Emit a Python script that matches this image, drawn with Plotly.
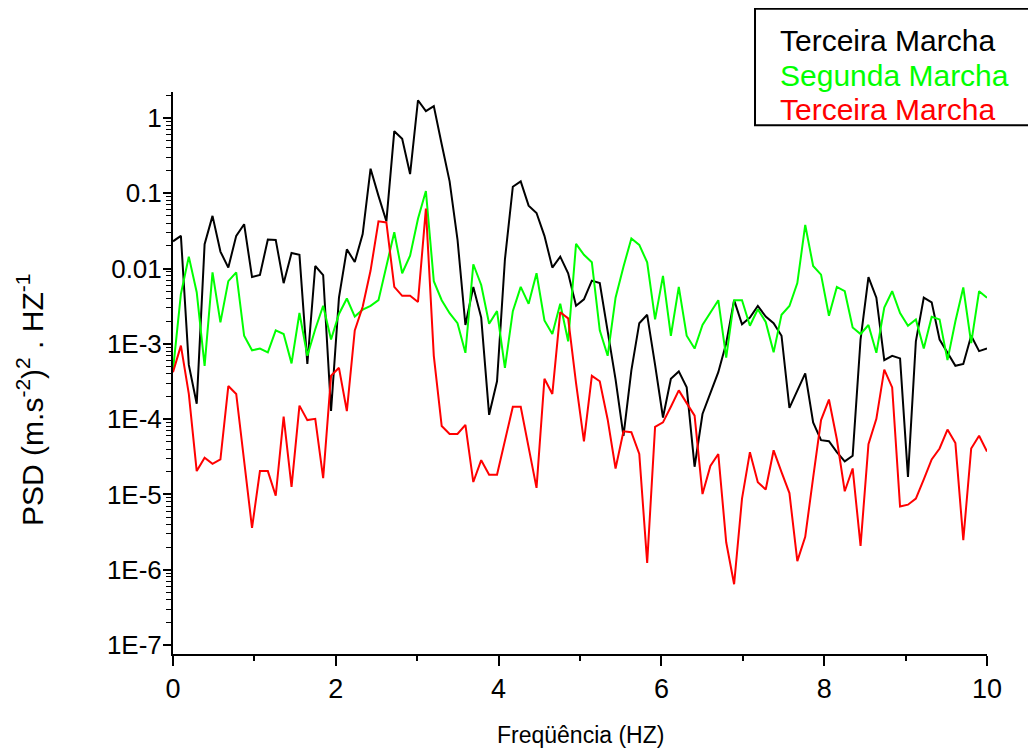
import plotly.graph_objects as go

# Frequency bins (Hz)
n_points = 104
freq = [round(i * 10 / (n_points - 1), 4) for i in range(n_points)]

terceira_black = [
    0.0230, 0.0272, 5.25e-4, 1.60e-4, 0.0210, 0.0501, 0.0168, 0.0103, 0.0272, 0.0388,
    7.7e-3, 8.2e-3, 0.0243, 0.0240, 6.4e-3, 0.0161, 0.0152, 5.4e-4, 0.0108, 8.2e-3,
    1.28e-4, 4.1e-3, 0.0180, 0.0122, 0.0287, 0.212, 0.0923, 0.0424, 0.668, 0.529,
    0.180, 1.72, 1.23, 1.44, 0.448, 0.144, 0.0243, 1.78e-3, 5.7e-3, 2.23e-3,
    1.14e-4, 3.18e-4, 0.0132, 0.122, 0.144, 0.0684, 0.0547, 0.0272, 0.0103, 0.0144,
    8.65e-3, 3.2e-3, 3.9e-3, 6.9e-3, 6.4e-3, 1.43e-3, 3.37e-4, 6.0e-5, 4.45e-4, 1.88e-3,
    2.43e-3, 5.25e-4, 1.05e-4, 3.44e-4, 4.3e-4, 2.64e-4, 2.33e-5, 1.17e-4, 2.28e-4, 4.2e-4,
    1.02e-3, 3.8e-3, 1.82e-3, 2.23e-3, 3.18e-3, 2.30e-3, 1.88e-3, 1.28e-3, 1.41e-4, 2.41e-4,
    4.06e-4, 9.06e-5, 5.25e-5, 5.08e-5, 3.64e-5, 2.75e-5, 3.26e-5, 1.14e-3, 7.7e-3, 4.1e-3,
    6.07e-4, 6.93e-4, 6.4e-4, 1.71e-5, 1.08e-3, 4.1e-3, 3.55e-3, 1.14e-3, 7.7e-4, 5.1e-4,
    5.4e-4, 1.28e-3, 8.0e-4, 8.65e-4,
]

segunda_green = [
    4.45e-4, 4.6e-3, 0.0144, 4.85e-3, 5.1e-4, 8.9e-3, 1.93e-3, 6.8e-3, 8.9e-3, 1.28e-3,
    8.2e-4, 8.65e-4, 7.7e-4, 1.51e-3, 1.35e-3, 5.5e-4, 2.57e-3, 6.93e-4, 1.56e-3, 3.2e-3,
    1.14e-3, 2.49e-3, 4.0e-3, 2.30e-3, 2.84e-3, 3.2e-3, 3.8e-3, 0.0112, 0.0303, 8.65e-3,
    0.0148, 0.0458, 0.107, 6.8e-3, 3.8e-3, 2.55e-3, 1.88e-3, 7.6e-4, 0.0114, 6.05e-3,
    1.85e-3, 2.72e-3, 4.8e-4, 2.72e-3, 5.7e-3, 3.4e-3, 8.65e-3, 2.04e-3, 1.35e-3, 3.4e-3,
    1.08e-3, 0.0213, 0.0152, 0.0121, 1.51e-3, 6.93e-4, 4.1e-3, 0.0106, 0.0251, 0.0206,
    0.0121, 2.11e-3, 8.0e-3, 1.28e-3, 5.7e-3, 1.28e-3, 8.65e-4, 1.78e-3, 2.57e-3, 3.8e-3,
    6.56e-4, 3.8e-3, 3.8e-3, 1.74e-3, 2.88e-3, 1.95e-3, 7.7e-4, 2.43e-3, 3.18e-3, 6.4e-3,
    0.0379, 0.0108, 8.3e-3, 2.36e-3, 5.7e-3, 5.0e-3, 1.65e-3, 1.35e-3, 1.78e-3, 7.6e-4,
    3.04e-3, 5.0e-3, 2.57e-3, 1.74e-3, 2.11e-3, 8.65e-4, 2.28e-3, 2.11e-3, 6.07e-4, 1.99e-3,
    5.6e-3, 1.02e-3, 5.0e-3, 4.1e-3,
]

terceira_red = [
    4.2e-4, 9.46e-4, 2.16e-4, 2.04e-5, 3.08e-5, 2.55e-5, 2.92e-5, 2.75e-4, 2.16e-4, 2.92e-5,
    3.6e-6, 2.04e-5, 2.04e-5, 9.6e-6, 1.08e-4, 1.26e-5, 1.51e-4, 9.7e-5, 1.01e-4, 1.64e-5,
    3.76e-4, 4.8e-4, 1.28e-4, 1.51e-3, 3.11e-3, 9.4e-3, 0.0424, 0.041, 5.7e-3, 4.34e-3,
    4.34e-3, 3.6e-3, 0.0625, 6.93e-4, 8.1e-5, 6.35e-5, 6.35e-5, 8.4e-5, 1.46e-5, 2.85e-5,
    1.83e-5, 1.83e-5, 5.08e-5, 1.46e-4, 1.46e-4, 4.3e-5, 1.22e-5, 3.44e-4, 2.16e-4, 2.63e-3,
    2.18e-3, 3.0e-4, 5.08e-5, 3.76e-4, 3.18e-4, 9.9e-5, 2.21e-5, 6.9e-5, 6.7e-5, 3.44e-5,
    1.23e-6, 7.9e-5, 9.06e-5, 1.46e-4, 2.41e-4, 1.63e-4, 1.11e-4, 1.01e-5, 2.39e-5, 3.44e-5,
    2.31e-6, 6.4e-7, 8.8e-6, 3.64e-5, 1.45e-5, 1.16e-5, 3.85e-5, 1.98e-5, 1.04e-5, 1.3e-6,
    2.73e-6, 1.67e-5, 9.7e-5, 1.82e-4, 5.4e-5, 1.1e-5, 2.21e-5, 2.07e-6, 4.65e-5, 1.01e-4,
    4.54e-4, 2.64e-4, 6.9e-6, 7.3e-6, 8.8e-6, 1.58e-5, 2.92e-5, 4.07e-5, 7.26e-5, 4.8e-5,
    2.47e-6, 4.07e-5, 6.0e-5, 3.72e-5,
]

series_names = ["Terceira Marcha", "Segunda Marcha", "Terceira Marcha"]
series_colors = ["#000000", "#00FF00", "#FF0000"]

y_tickvals = [1, 0.1, 0.01, 1e-3, 1e-4, 1e-5, 1e-6, 1e-7]
y_ticktext = ["1", "0.1", "0.01", "1E-3", "1E-4", "1E-5", "1E-6", "1E-7"]
y_minor = [m * 10.0 ** k for k in range(-7, 1) for m in range(2, 10)] + [2.0]

x_tickvals = [0, 2, 4, 6, 8, 10]
x_ticktext = ["0", "2", "4", "6", "8", "10"]
x_minor = [1, 3, 5, 7, 9]

y_title = "PSD (m.s<sup>-2</sup>)<sup>2</sup> . HZ<sup>-1</sup>"
x_title = "Freqüência (HZ)"

fig = go.Figure()
for ys, name, color in zip([terceira_black, segunda_green, terceira_red], series_names, series_colors):
    fig.add_trace(go.Scatter(x=freq, y=ys, mode="lines", name=name,
                             line=dict(color=color, width=2), showlegend=False))

fig.update_xaxes(
    range=[0, 10], tickmode="array", tickvals=x_tickvals, ticktext=x_ticktext,
    showline=True, linecolor="black", linewidth=2, ticks="outside", ticklen=10,
    tickwidth=2, tickcolor="black", showgrid=False, zeroline=False, automargin=False,
    tickfont=dict(size=27, color="black"),
    minor=dict(tickmode="array", tickvals=x_minor, ticks="outside", ticklen=5,
               tickwidth=2, tickcolor="black", showgrid=False),
)
fig.update_yaxes(
    type="log", range=[-7.12, 0.345], tickmode="array", tickvals=y_tickvals,
    ticktext=y_ticktext, showline=True, linecolor="black", linewidth=2,
    ticks="outside", ticklen=8, tickwidth=2, tickcolor="black", showgrid=False,
    zeroline=False, automargin=False, tickfont=dict(size=26, color="black"),
    ticklabelstandoff=-4,
    minor=dict(tickmode="array", tickvals=y_minor, ticks="outside", ticklen=5,
               tickwidth=1, tickcolor="black", showgrid=False),
)

annotations = [
    dict(text=y_title, x=-0.1757, y=0.452, xref="paper", yref="paper",
         xanchor="center", yanchor="middle", textangle=-90, showarrow=False,
         font=dict(size=30, color="black")),
    dict(text=x_title, x=0.5, y=-0.1441, xref="paper", yref="paper",
         xanchor="center", yanchor="middle", showarrow=False,
         font=dict(size=23, color="black")),
]
# Legend drawn as boxed coloured text (no line symbols in the original)
legend_y = [1.0925, 1.0302, 0.968]
for name, color, yy in zip(series_names, series_colors, legend_y):
    annotations.append(dict(text=name, x=0.743, y=yy, xref="paper", yref="paper",
                            xanchor="left", yanchor="middle", showarrow=False,
                            font=dict(size=30, color=color)))

# page body adds an 8px offset, so the figure is 8px smaller with margins reduced
fig.update_layout(
    width=1028, height=741, autosize=False,
    margin=dict(l=165, r=49, t=84, b=95),
    plot_bgcolor="white", paper_bgcolor="white",
    font=dict(family="Arial, Liberation Sans, sans-serif", color="black"),
    annotations=annotations,
    shapes=[dict(type="rect", xref="paper", yref="paper", x0=0.715, x1=1.054,
                 y0=0.941, y1=1.148, line=dict(color="black", width=2),
                 fillcolor="rgba(0,0,0,0)")],
)

fig.write_html("out.html")
